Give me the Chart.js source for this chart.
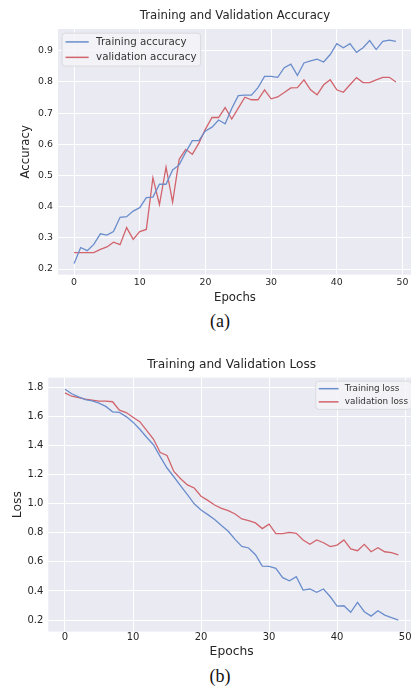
<!DOCTYPE html>
<html>
<head>
<meta charset="utf-8">
<script src="https://cdn.jsdelivr.net/npm/chart.js@4"></script>
<style>
  html, body { margin: 0; padding: 0; background: #fff; }
  #page { position: relative; width: 411px; height: 688px; overflow: hidden; }
  canvas { position: absolute; left: 0; }
  .cap { position: absolute; left: 220px; transform: translateX(-50%);
         font: 18px/18px "Liberation Serif", "Times New Roman", serif; color: #111; }
</style>
</head>
<body>
<div id="page">
  <canvas id="accChart" width="412" height="310" style="top:0"></canvas>
  <div class="cap" style="top:312px">(a)</div>
  <canvas id="lossChart" width="415" height="318" style="top:345px"></canvas>
  <div class="cap" style="top:667px">(b)</div>
</div>
<script>
// epochs 0..49
const epochs = Array.from({ length: 50 }, (_, i) => i);
const epochTicks = [0, 10, 20, 30, 40, 50];
const accTicks = [0.2, 0.3, 0.4, 0.5, 0.6, 0.7, 0.8, 0.9];
const lossTicks = [0.2, 0.4, 0.6, 0.8, 1.0, 1.2, 1.4, 1.6, 1.8];

const trainAcc = [0.218, 0.269, 0.259, 0.279, 0.313, 0.309, 0.320, 0.366, 0.368, 0.386,
  0.397, 0.429, 0.431, 0.472, 0.472, 0.518, 0.534, 0.575, 0.612, 0.612,
  0.643, 0.655, 0.678, 0.666, 0.715, 0.756, 0.758, 0.758, 0.782, 0.818,
  0.818, 0.815, 0.846, 0.857, 0.821, 0.861, 0.868, 0.873, 0.864, 0.888,
  0.923, 0.910, 0.923, 0.895, 0.910, 0.933, 0.904, 0.930, 0.934, 0.930];
const valAcc = [0.253, 0.253, 0.253, 0.253, 0.263, 0.271, 0.286, 0.278, 0.333, 0.295,
  0.320, 0.327, 0.493, 0.407, 0.527, 0.415, 0.552, 0.584, 0.568, 0.604,
  0.649, 0.686, 0.686, 0.718, 0.681, 0.716, 0.751, 0.743, 0.743, 0.775,
  0.746, 0.752, 0.766, 0.781, 0.782, 0.807, 0.775, 0.759, 0.791, 0.807,
  0.775, 0.767, 0.791, 0.814, 0.798, 0.798, 0.807, 0.815, 0.815, 0.800];

const trainLoss = [1.785, 1.754, 1.732, 1.713, 1.705, 1.690, 1.667, 1.630, 1.626, 1.597,
  1.559, 1.510, 1.455, 1.404, 1.322, 1.244, 1.184, 1.122, 1.061, 0.998,
  0.955, 0.924, 0.890, 0.849, 0.810, 0.754, 0.706, 0.695, 0.649, 0.570,
  0.568, 0.555, 0.491, 0.470, 0.498, 0.406, 0.413, 0.390, 0.413, 0.360,
  0.296, 0.298, 0.253, 0.321, 0.257, 0.227, 0.264, 0.234, 0.216, 0.200];
const valLoss = [1.760, 1.737, 1.728, 1.717, 1.710, 1.703, 1.703, 1.699, 1.641, 1.625,
  1.592, 1.562, 1.502, 1.443, 1.350, 1.330, 1.220, 1.170, 1.128, 1.107,
  1.050, 1.022, 0.990, 0.967, 0.951, 0.928, 0.894, 0.883, 0.867, 0.828,
  0.858, 0.794, 0.794, 0.802, 0.795, 0.750, 0.720, 0.750, 0.731, 0.704,
  0.715, 0.750, 0.688, 0.676, 0.720, 0.669, 0.697, 0.669, 0.663, 0.647];

const FONT = '"DejaVu Sans", sans-serif';
const TXT = '#262626';
const BLUE = '#6a8dcc';
const RED = '#d1646c';

// matplotlib style 5% margins
function padRange(arrs) {
  const all = [].concat(...arrs);
  const lo = Math.min(...all), hi = Math.max(...all);
  const m = (hi - lo) * 0.05;
  return { min: lo - m, max: hi + m };
}
const xr = padRange([epochs]);

// grey plot background
const plotBg = {
  id: 'plotBg',
  beforeDraw(chart) {
    const { ctx, chartArea: a } = chart;
    ctx.save();
    ctx.fillStyle = '#eaeaf2';
    ctx.fillRect(a.left, a.top, a.width, a.height);
    ctx.restore();
  }
};

// legend box drawn inside the plot, like matplotlib
const boxLegend = {
  id: 'boxLegend',
  afterDraw(chart, args, opts) {
    const { ctx, chartArea: a } = chart;
    const fs = opts.size;
    const items = chart.data.datasets;
    ctx.save();
    ctx.font = fs + 'px ' + FONT;
    const textW = Math.max(...items.map(d => ctx.measureText(d.label).width));
    const padL = 0.33 * fs, handle = 2.25 * fs, gap = 0.72 * fs, padR = 0.4 * fs;
    const rowH = 1.5 * fs, padV = 0.1 * fs, m = 0.4 * fs;
    const w = padL + handle + gap + textW + padR;
    const h = items.length * rowH + 2 * padV;
    const x = opts.corner === 'right' ? a.right - m - w : a.left + m;
    const y = a.top + m;
    ctx.beginPath();
    ctx.roundRect(x, y, w, h, 3);
    ctx.fillStyle = 'rgba(244,244,248,0.85)';
    ctx.fill();
    ctx.strokeStyle = '#d9d9df';
    ctx.lineWidth = 1;
    ctx.stroke();
    items.forEach((d, i) => {
      const cy = y + padV + rowH * (i + 0.5);
      ctx.beginPath();
      ctx.moveTo(x + padL, cy);
      ctx.lineTo(x + padL + handle, cy);
      ctx.strokeStyle = d.borderColor;
      ctx.lineWidth = 1.5;
      ctx.stroke();
      ctx.fillStyle = '#333';
      ctx.textBaseline = 'middle';
      ctx.textAlign = 'left';
      ctx.fillText(d.label, x + padL + handle + gap, cy);
    });
    ctx.restore();
  }
};

function makeChart(id, o) {
  const yr = padRange([o.a, o.b]);
  return new Chart(document.getElementById(id), {
    type: 'line',
    data: {
      labels: epochs,
      datasets: [
        { label: o.labels[0], data: o.a, borderColor: BLUE, borderWidth: 1.3, pointRadius: 0, tension: 0 },
        { label: o.labels[1], data: o.b, borderColor: RED, borderWidth: 1.3, pointRadius: 0, tension: 0 }
      ]
    },
    options: {
      responsive: false,
      animation: false,
      layout: { padding: 0 },
      plugins: {
        legend: { display: false },
        tooltip: { enabled: false },
        title: {
          display: true,
          text: o.title,
          fullSize: false,
          color: TXT,
          font: { family: FONT, size: o.titleSize, weight: 'normal' },
          padding: o.titlePad
        },
        boxLegend: { size: o.legendSize, corner: o.corner }
      },
      scales: {
        x: {
          type: 'linear',
          min: xr.min,
          max: xr.max,
          afterBuildTicks: s => { s.ticks = epochTicks.map(v => ({ value: v })); },
          afterFit: s => { s.height = o.xHeight; },
          grid: { color: '#ffffff', lineWidth: 1, drawTicks: false },
          border: { display: false },
          ticks: { padding: o.xTickPad, color: TXT, font: { family: FONT, size: o.tickSize },
                   callback: v => String(v) },
          title: { display: true, text: 'Epochs', color: TXT,
                   font: { family: FONT, size: o.labelSize }, padding: { top: 0, bottom: o.xTitlePad } }
        },
        y: {
          type: 'linear',
          min: yr.min,
          max: yr.max,
          afterBuildTicks: s => { s.ticks = o.yTicks.map(v => ({ value: v })); },
          afterFit: s => { s.width = o.yWidth; },
          grid: { color: '#ffffff', lineWidth: 1, drawTicks: false },
          border: { display: false },
          ticks: { padding: 5, color: TXT, font: { family: FONT, size: o.tickSize },
                   callback: v => v.toFixed(1) },
          title: { display: true, text: o.yLabel, color: TXT,
                   font: { family: FONT, size: o.labelSize }, padding: { top: o.yTitlePad, bottom: 0 } }
        }
      }
    },
    plugins: [plotBg, boxLegend]
  });
}

makeChart('accChart', {
  a: trainAcc, b: valAcc,
  labels: ['Training accuracy', 'validation accuracy'],
  title: 'Training and Validation Accuracy',
  yLabel: 'Accuracy', yTicks: accTicks,
  titleSize: 11.7, titlePad: { top: 8.5, bottom: 6.5 },
  labelSize: 11.7, tickSize: 9.4, legendSize: 10.3, corner: 'left',
  xHeight: 35.4, xTickPad: 2, xTitlePad: 4.7,
  yWidth: 58, yTitlePad: 18.8
});

makeChart('lossChart', {
  a: trainLoss, b: valLoss,
  labels: ['Training loss', 'validation loss'],
  title: 'Training and Validation Loss',
  yLabel: 'Loss', yTicks: lossTicks,
  titleSize: 12.15, titlePad: { top: 12.7, bottom: 5.4 },
  labelSize: 12.3, tickSize: 10, legendSize: 8.8, corner: 'right',
  xHeight: 31.4, xTickPad: 0.2, xTitlePad: 3.9,
  yWidth: 48.3, yTitlePad: 10.6
});
</script>
</body>
</html>
